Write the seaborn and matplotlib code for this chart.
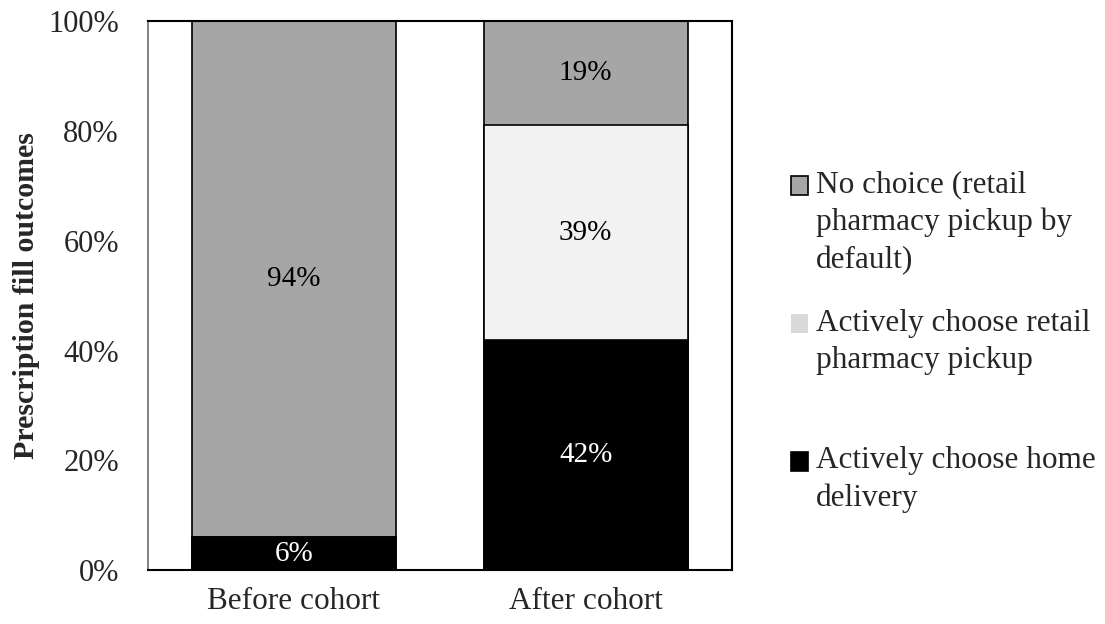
import pandas as pd
import seaborn as sns
import matplotlib
import matplotlib.pyplot as plt
import numpy as np
from matplotlib.legend_handler import HandlerPatch

# Chart data (percent of prescription fills)
cohorts = ["Before cohort", "After cohort"]
home_delivery = [6, 42]
retail_active = [0, 39]
no_choice = [94, 19]

series_names = ["No choice (retail\npharmacy pickup by\ndefault)",
                "Actively choose retail\npharmacy pickup\n",
                "Actively choose home\ndelivery"]
series_colors = ["#a6a6a6", "#f2f2f2", "#000000"]

sns.set_style("white")
plt.rcParams['font.family'] = ['Liberation Serif', 'DejaVu Serif']
matplotlib.rcParams['font.size'] = 22

df = pd.DataFrame({"cohort": cohorts,
                   "home": home_delivery,
                   "retail": retail_active,
                   "nochoice": no_choice})
# cumulative tops so the stacks can be drawn back to front
df["top_home"] = df.home
df["top_retail"] = df.home + df.retail
df["top_all"] = df.home + df.retail + df.nochoice

fig = plt.figure(figsize=(11.05, 6.24), dpi=100)
ax = fig.add_axes([0.134, 0.0865, 0.528, 0.8795])

for col, color in zip(["top_all", "top_retail", "top_home"], series_colors):
    sns.barplot(data=df, x="cohort", y=col, color=color, width=0.7,
                edgecolor="black", linewidth=1.2, saturation=1, ax=ax)

# segment labels
for i, row in df.iterrows():
    segs = [(0, row.home, "white"),
            (row.home, row.retail, "black"),
            (row.home + row.retail, row.nochoice, "black")]
    for base, val, tc in segs:
        if val > 0:
            ax.text(i, base + val / 2, f"{val}%", ha="center", va="center",
                    color=tc, fontsize=21)

ax.set_xlim(-0.5, 1.5)
ax.set_ylim(0, 100)
ax.set_yticks(np.arange(0, 101, 20))
ax.set_yticklabels([f"{v}%" for v in range(0, 101, 20)])
ax.set_xlabel("")
ax.set_ylabel("Prescription fill outcomes", fontweight="bold", fontsize=21.5)
ax.yaxis.set_label_coords(-0.186, 0.5)
ax.tick_params(axis="y", direction="out", length=8, color="#868686", width=1.5,
               labelsize=22, pad=13)
ax.tick_params(axis="x", length=0, labelsize=22.5, pad=12)

for s in ["top", "right", "bottom"]:
    ax.spines[s].set_color("black")
    ax.spines[s].set_linewidth(1.5)
ax.spines["left"].set_color("#868686")
ax.spines["left"].set_linewidth(1.5)

# legend: the swatch sits beside the first line of each label
leg_fs = 22.5
line_step = leg_fs * 1.19


def first_line_patch(n_lines):
    def make(legend, orig_handle, xdescent, ydescent, width, height, fontsize):
        shift = (n_lines - 1) / 2 * line_step
        return matplotlib.patches.Rectangle((-xdescent, -ydescent + shift), width, height)
    return make


handles = [matplotlib.patches.Patch(facecolor=series_colors[0], edgecolor="black", linewidth=1.2),
           matplotlib.patches.Patch(facecolor="#d9d9d9", edgecolor="none"),
           matplotlib.patches.Patch(facecolor=series_colors[2], edgecolor="black", linewidth=1.2)]
hmap = {h: HandlerPatch(patch_func=first_line_patch(name.count("\n") + 1))
        for h, name in zip(handles, series_names)}
leg = fig.legend(handles, series_names, handler_map=hmap, loc="center left",
                 bbox_to_anchor=(0.69, 0.452), frameon=False, fontsize=leg_fs,
                 handlelength=0.55, handleheight=0.55, handletextpad=0.25,
                 labelspacing=1.09)
for t in leg.get_texts():
    t.set_linespacing(1.37)

fig.savefig("out.png", dpi=100)
